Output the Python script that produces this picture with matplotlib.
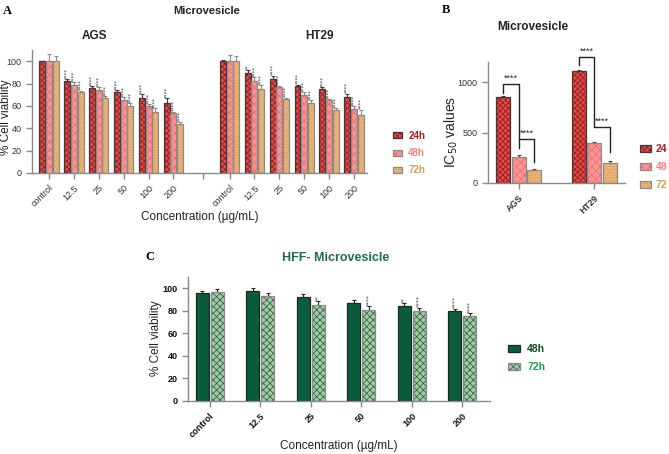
import numpy as np
import matplotlib
matplotlib.use("Agg")
import matplotlib.pyplot as plt
from matplotlib.legend_handler import HandlerTuple

plt.rcParams['font.family'] = ['Liberation Sans', 'DejaVu Sans']
plt.rcParams['hatch.linewidth'] = 0.6

# ---------------- data ----------------
conc = ["control", "12.5", "25", "50", "100", "200"]
times_a = ["24h", "48h", "72h"]

ags_24 = [100, 82, 76, 72, 67.5, 62.5]
ags_48 = [100, 79, 74, 65.5, 59.5, 54]
ags_72 = [100, 72, 67, 60, 55, 44]
ags_24_err = [0.5, 2, 1.5, 2, 3, 4.5]
ags_48_err = [6, 2.5, 2.5, 2.5, 2, 1]
ags_72_err = [5, 1.5, 1.5, 2.5, 3, 1.5]
ags_sig_24 = ["", "****", "****", "****", "****", "****"]
ags_sig_48 = ["", "****", "****", "****", "****", "****"]
ags_sig_72 = ["", "****", "****", "****", "****", "****"]

ht_24 = [100, 89, 84, 78, 75, 68]
ht_48 = [100, 82.5, 77, 70, 65, 57.5]
ht_72 = [100, 75.5, 66.5, 63, 56.5, 51.5]
ht_24_err = [1, 3, 3, 1, 2, 3]
ht_48_err = [5.5, 3, 1, 2, 1, 2]
ht_72_err = [5, 3, 1, 2, 1.5, 5]
ht_sig_24 = ["", "**", "****", "****", "****", "****"]
ht_sig_48 = ["", "****", "****", "****", "****", "****"]
ht_sig_72 = ["", "****", "****", "****", "****", "****"]

cell_lines = ["AGS", "HT29"]
ic50_24 = [848, 1112]
ic50_48 = [262, 400]
ic50_72 = [126, 203]
ic50_24_err = [10, 8]
ic50_48_err = [12, 10]
ic50_72_err = [10, 15]
ic50_brackets = [  # (group, from_idx, to_idx, top, left_end, right_end)
    (0, 0, 1, 980, 890, 350),
    (0, 1, 2, 435, 435, 210),
    (1, 0, 1, 1250, 1170, 565),
    (1, 1, 2, 555, 555, 305),
]
bracket_labels = ["****", "****", "****", "****"]

hff_48 = [96.2, 97.3, 92.3, 87.3, 84.7, 80]
hff_72 = [96.5, 93.2, 85.3, 81.1, 79.6, 75.5]
hff_48_err = [1.5, 2.5, 3, 2, 2, 2]
hff_72_err = [2.5, 3, 3, 3, 3, 2.5]
hff_sig_48 = ["", "", "", "", "**", "****"]
hff_sig_72 = ["", "", "**", "****", "****", "****"]

# ---------------- styles ----------------
face = {"24h": "#e04a4a", "48h": "#f99494", "72h": "#ebb477"}
hatchc = {"24h": "#9c1c1c", "48h": "#f26e6e", "72h": "#d9995a"}
edge = {"24h": "#3a3a3a", "48h": "#8a8a8a", "72h": "#8a8a8a"}
txtc = {"24h": "#b0181c", "48h": "#f48282", "72h": "#cfa050"}
spine_c = "#8a8a8a"
tick_txt = "#333333"

W, H = 669, 454
fig = plt.figure(figsize=(W / 100, H / 100), dpi=100)


def rect(l, t, r, b):
    return [l / W, 1 - b / H, (r - l) / W, (b - t) / H]


def style_axes(ax):
    for s in ["top", "right"]:
        ax.spines[s].set_visible(False)
    for s in ["left", "bottom"]:
        ax.spines[s].set_color(spine_c)
        ax.spines[s].set_linewidth(1.0)
    ax.tick_params(colors=spine_c, length=4, width=1.0, labelcolor=tick_txt)


def hbar(ax, x, h, w, key, hatch, err=None, ecol=None):
    hb = ax.bar(x, h, w, color=face[key], hatch=hatch, edgecolor=hatchc[key],
                linewidth=0, zorder=2)
    ob = ax.bar(x, h, w, fill=False, edgecolor=edge[key], linewidth=0.9, zorder=3)
    if err is not None:
        ax.errorbar(x, h, yerr=[np.zeros(len(err)), err], fmt='none',
                    ecolor=ecol or edge[key], elinewidth=0.8, capsize=1.5,
                    capthick=0.8, zorder=1.5)
    return hb, ob


def stars(ax, xs, vals, errs, sigs, dy, fs):
    for xv, v, e, s in zip(xs, vals, errs, sigs):
        if s:
            ax.text(xv, v + e + dy, s, rotation=90, ha='center', va='bottom',
                    fontsize=fs, color='#333333', family=['DejaVu Sans'])


# ---------------- Panel A ----------------
axA = fig.add_axes(rect(32, 50, 367, 173))
style_axes(axA)
xa_ags = np.arange(len(conc), dtype=float)
xa_ht = np.arange(len(conc), dtype=float) + 7.25
bw, off = 0.24, 0.27
hatches = {"24h": "xxxxxx", "48h": "xxxx", "72h": "......"}
handlesA = []
for xs, vals, errs, sigs in [
    (xa_ags, [ags_24, ags_48, ags_72], [ags_24_err, ags_48_err, ags_72_err],
     [ags_sig_24, ags_sig_48, ags_sig_72]),
    (xa_ht, [ht_24, ht_48, ht_72], [ht_24_err, ht_48_err, ht_72_err],
     [ht_sig_24, ht_sig_48, ht_sig_72])]:
    handlesA = []
    for i, key in enumerate(times_a):
        xx = xs + (i - 1) * off
        hb, ob = hbar(axA, xx, vals[i], bw, key, hatches[key], errs[i])
        handlesA.append((hb[0], ob[0]))
        stars(axA, xx, vals[i], errs[i], sigs[i], 0.3, 4.0)
axA.set_xlim(-0.68, 12.77)
axA.set_ylim(0, 110)
axA.set_yticks([0, 20, 40, 60, 80, 100])
axA.tick_params(axis='y', labelsize=6.5)
xt = list(xa_ags) + [6.2] + list(xa_ht)
axA.set_xticks(xt)
axA.set_xticklabels(conc + [""] + conc, rotation=45, ha='right',
                    rotation_mode='anchor', fontsize=6.5)
fig.text(6 / W, 1 - 117 / H, "% Cell viability", rotation=90, ha='center',
         va='center', fontsize=8.5, color='#222222')
fig.text(200 / W, 1 - 217 / H, "Concentration (\u00b5g/mL)", ha='center',
         va='center', fontsize=8.5, color='#222222')
fig.text(3 / W, 1 - 11 / H, "A", family=['Liberation Serif'], fontweight='bold',
         fontsize=9, ha='left', va='center')
fig.text(207 / W, 1 - 11 / H, "Microvesicle", fontweight='bold', fontsize=8,
         ha='center', va='center', color='#222222')
fig.text(94 / W, 1 - 36 / H, "AGS", fontweight='bold', fontsize=8.5,
         ha='center', va='center', color='#222222')
fig.text(320 / W, 1 - 36 / H, "HT29", fontweight='bold', fontsize=8.5,
         ha='center', va='center', color='#222222')
legA = fig.legend(handlesA, times_a, loc='upper left',
                  bbox_to_anchor=(384 / W, 1 - 122 / H), frameon=False,
                  handler_map={tuple: HandlerTuple(ndivide=1)},
                  handlelength=1.0, handleheight=0.6, handletextpad=0.6,
                  labelspacing=0.75, fontsize=7)
for t, key in zip(legA.get_texts(), times_a):
    t.set_color(txtc[key])
    t.set_fontweight('bold')

# ---------------- Panel B ----------------
axB = fig.add_axes(rect(488, 62, 625, 183))
style_axes(axB)
xb = np.arange(len(cell_lines), dtype=float)
bwB, offB = 0.187, 0.207
handlesB = []
for i, (key, vals, errs) in enumerate(zip(times_a, [ic50_24, ic50_48, ic50_72],
                                          [ic50_24_err, ic50_48_err, ic50_72_err])):
    hb, ob = hbar(axB, xb + (i - 1) * offB, vals, bwB, key, hatches[key], errs,
                  ecol='#444444')
    handlesB.append((hb[0], ob[0]))
for (g, a, b, top, lend, rend), lab in zip(ic50_brackets, bracket_labels):
    x1 = xb[g] + (a - 1) * offB
    x2 = xb[g] + (b - 1) * offB
    axB.plot([x1, x1, x2, x2], [lend, top, top, rend], color='#222222', lw=1.0,
             clip_on=False, zorder=4)
    axB.text((x1 + x2) / 2, top + 10, lab, ha='center', va='bottom', fontsize=6.5,
             color='#222222', clip_on=False)
axB.set_xlim(-0.41, 1.41)
axB.set_ylim(0, 1200)
axB.set_yticks([0, 500, 1000])
axB.tick_params(axis='y', labelsize=6.5)
axB.set_xticks(xb)
axB.set_xticklabels(cell_lines, rotation=45, ha='right', rotation_mode='anchor',
                    fontsize=6.5, fontweight='bold')
fig.text(451 / W, 1 - 132 / H, "IC$_{50}$ values", rotation=90, ha='center',
         va='center', fontsize=10, color='#222222')
fig.text(446 / W, 1 - 10 / H, "B", family=['Liberation Serif'], fontweight='bold',
         fontsize=9, ha='center', va='center')
fig.text(533 / W, 1 - 27 / H, "Microvesicle", fontweight='bold', fontsize=8.5,
         ha='center', va='center', color='#222222')
labelsB = [t[:2] for t in times_a]
legB = fig.legend(handlesB, labelsB, loc='upper left',
                  bbox_to_anchor=(634 / W, 1 - 138 / H), frameon=False,
                  handler_map={tuple: HandlerTuple(ndivide=1)},
                  handlelength=1.0, handleheight=0.6, handletextpad=0.5,
                  labelspacing=0.75, fontsize=7.5, borderaxespad=0.2)
for t, key in zip(legB.get_texts(), times_a):
    t.set_color(txtc[key])
    t.set_fontweight('bold')

# ---------------- Panel C ----------------
face.update({"48g": "#0a5c3a", "72g": "#a9c9a6"})
hatchc.update({"48g": "#0a5c3a", "72g": "#2d6b4a"})
edge.update({"48g": "#1a2a20", "72g": "#8a8a8a"})
txtc.update({"48g": "#0b4a26", "72g": "#19a04c"})
times_c = ["48h", "72h"]

axC = fig.add_axes(rect(188, 277, 490, 401))
style_axes(axC)
xc = np.arange(len(conc), dtype=float)
bwC, offC = 0.26, 0.148
handlesC = []
for i, (key, vals, errs, sigs, hp) in enumerate(zip(
        ["48g", "72g"], [hff_48, hff_72], [hff_48_err, hff_72_err],
        [hff_sig_48, hff_sig_72], [None, "xxxxx"])):
    xx = xc + (-offC if i == 0 else offC)
    hb, ob = hbar(axC, xx, vals, bwC, key, hp, errs, ecol='#222222')
    handlesC.append((hb[0], ob[0]))
    stars(axC, xx, vals, errs, sigs, 0.4, 4.2)
axC.set_xlim(-0.43, 5.55)
axC.set_ylim(0, 110)
axC.set_yticks([0, 20, 40, 60, 80, 100])
axC.tick_params(axis='y', labelsize=6.5, labelcolor='#111111')
for lab in axC.get_yticklabels():
    lab.set_fontweight('bold')
axC.set_xticks(xc)
axC.set_xticklabels(conc, rotation=45, ha='right', rotation_mode='anchor',
                    fontsize=6.5, fontweight='bold', color='#111111')
fig.text(156 / W, 1 - 338 / H, "% Cell viability", rotation=90, ha='center',
         va='center', fontsize=8.5, color='#222222')
fig.text(339 / W, 1 - 446 / H, "Concentration (\u00b5g/mL)", ha='center',
         va='center', fontsize=8.5, color='#222222')
fig.text(150 / W, 1 - 257 / H, "C", family=['Liberation Serif'], fontweight='bold',
         fontsize=9, ha='center', va='center')
fig.text(336 / W, 1 - 258 / H, "HFF- Microvesicle", fontweight='bold',
         fontsize=9, ha='center', va='center', color='#17704a')
legC = fig.legend(handlesC, times_c, loc='upper left',
                  bbox_to_anchor=(499 / W, 1 - 335 / H), frameon=False,
                  handler_map={tuple: HandlerTuple(ndivide=1)},
                  handlelength=1.1, handleheight=0.6, handletextpad=0.7,
                  labelspacing=0.75, fontsize=7.5)
for t, key in zip(legC.get_texts(), ["48g", "72g"]):
    t.set_color(txtc[key])
    t.set_fontweight('bold')

fig.savefig("out.png", dpi=100)
